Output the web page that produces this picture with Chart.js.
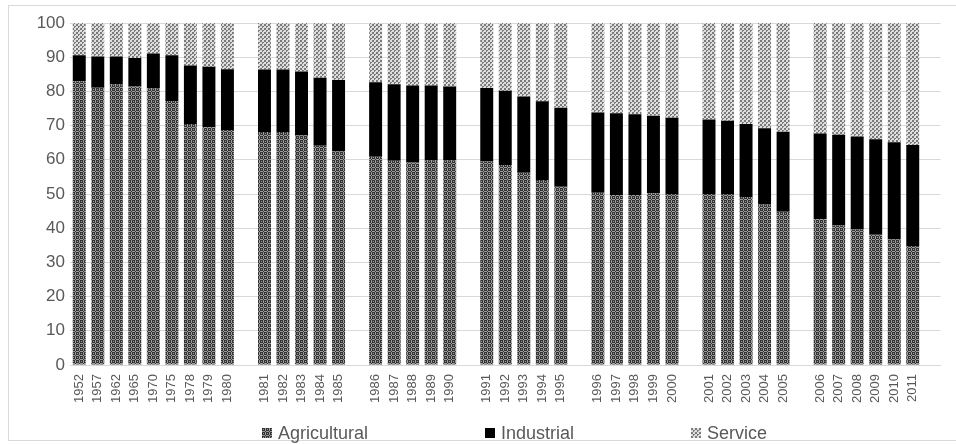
<!DOCTYPE html>
<html>
<head>
<meta charset="utf-8">
<script src="https://cdn.jsdelivr.net/npm/chart.js@4/dist/chart.umd.min.js"></script>
<style>
  body { margin: 0; background: #fff; overflow: hidden; }
  #wrap { position: relative; width: 956px; height: 444px; }
  #legend {
    position: absolute; left: 262px; top: 423px; display: flex; gap: 117px;
    font: 18px "Liberation Sans", Arial, sans-serif; color: #595959; line-height: 20px;
  }
  #legend span.item { display: flex; align-items: center; }
  #legend span.box { width: 10px; height: 10px; margin-right: 6px; display: inline-block; }
</style>
</head>
<body>
<div id="wrap">
  <canvas id="chart" width="956" height="444"></canvas>
  <div id="legend"></div>
</div>
<script>
// '' marks the empty slot Excel leaves between period groups
const years = [
  '1952', '1957', '1962', '1965', '1970', '1975', '1978', '1979', '1980', '',
  '1981', '1982', '1983', '1984', '1985', '',
  '1986', '1987', '1988', '1989', '1990', '',
  '1991', '1992', '1993', '1994', '1995', '',
  '1996', '1997', '1998', '1999', '2000', '',
  '2001', '2002', '2003', '2004', '2005', '',
  '2006', '2007', '2008', '2009', '2010', '2011', ''
];

const agricultural = [
  83.0, 81.1, 82.1, 81.4, 80.9, 77.2, 70.5, 69.5, 68.7, null,
  68.1, 68.1, 67.1, 64.1, 62.4, null,
  60.9, 59.7, 59.2, 59.9, 59.9, null,
  59.5, 58.5, 56.2, 54.1, 52.1, null,
  50.4, 49.7, 49.7, 50.2, 50.0, null,
  50.0, 50.0, 49.1, 46.9, 44.8, null,
  42.6, 40.8, 39.6, 38.1, 36.7, 34.8, null
];

const industrial = [
  7.6, 9.1, 8.1, 8.4, 10.2, 13.4, 17.1, 17.7, 17.8, null,
  18.3, 18.3, 18.7, 19.9, 20.9, null,
  21.8, 22.4, 22.5, 21.8, 21.5, null,
  21.5, 21.7, 22.3, 23.0, 23.1, null,
  23.4, 23.9, 23.6, 22.7, 22.3, null,
  21.8, 21.4, 21.4, 22.3, 23.4, null,
  25.1, 26.5, 27.2, 27.9, 28.4, 29.5, null
];

const service = [
  9.4, 9.8, 9.8, 10.2, 8.9, 9.4, 12.4, 12.8, 13.5, null,
  13.6, 13.6, 14.2, 16.0, 16.7, null,
  17.3, 17.9, 18.3, 18.3, 18.6, null,
  19.0, 19.8, 21.5, 22.9, 24.8, null,
  26.2, 26.4, 26.7, 27.1, 27.7, null,
  28.2, 28.6, 29.5, 30.8, 31.8, null,
  32.3, 32.7, 33.2, 34.0, 34.9, 35.7, null
];

const yTicks = [0, 10, 20, 30, 40, 50, 60, 70, 80, 90, 100];

function makeTile(base, dot, cells) {
  const tile = document.createElement('canvas');
  tile.width = 4;
  tile.height = 4;
  const t = tile.getContext('2d');
  t.fillStyle = base;
  t.fillRect(0, 0, 4, 4);
  t.fillStyle = dot;
  cells.forEach(([x, y]) => t.fillRect(x, y, 1, 1));
  return tile;
}

// dense dark grid for agriculture, light dotted weave for services
const agriTile = makeTile('#333333', '#9c9c9c', [[3, 0], [3, 1], [3, 2], [0, 3], [1, 3], [2, 3], [1, 1]]);
const servTile = makeTile('#dedede', '#7a7a7a', [[0, 0], [1, 0], [0, 1], [1, 1], [2, 2], [3, 2], [2, 3]]);

const ctx = document.getElementById('chart').getContext('2d');
const agriFill = ctx.createPattern(agriTile, 'repeat');
const servFill = ctx.createPattern(servTile, 'repeat');

const frame = {
  id: 'frame',
  beforeDraw(chart) {
    const c = chart.ctx;
    c.save();
    c.fillStyle = '#fff';
    c.fillRect(0, 0, chart.width, chart.height);
    c.strokeStyle = '#d9d9d9';
    c.lineWidth = 1;
    c.strokeRect(8.5, 5.5, 960, 435);
    c.restore();
  }
};

const tickFont = { family: '"Liberation Sans", Arial, sans-serif' };

new Chart(ctx, {
  type: 'bar',
  data: {
    labels: years,
    datasets: [
      { label: 'Agricultural', data: agricultural, backgroundColor: agriFill },
      { label: 'Industrial', data: industrial, backgroundColor: '#000' },
      { label: 'Service', data: service, backgroundColor: servFill }
    ]
  },
  options: {
    responsive: false,
    animation: false,
    layout: { padding: { top: 23, right: 12, left: 0, bottom: 0 } },
    datasets: { bar: { barPercentage: 0.7, categoryPercentage: 1, borderWidth: 0 } },
    plugins: { legend: { display: false }, tooltip: { enabled: false } },
    scales: {
      x: {
        stacked: true,
        grid: { display: false, drawTicks: false },
        border: { display: true, color: '#d9d9d9' },
        ticks: {
          autoSkip: false, minRotation: 90, maxRotation: 90, padding: 9,
          color: '#595959', font: { ...tickFont, size: 13 }
        },
        afterFit: (scale) => { scale.height = 79; }
      },
      y: {
        stacked: true,
        min: 0,
        max: 100,
        afterBuildTicks: (scale) => { scale.ticks = yTicks.map((v) => ({ value: v })); },
        grid: { color: '#d9d9d9', drawTicks: false },
        border: { display: false },
        ticks: { padding: 5, color: '#595959', font: { ...tickFont, size: 17 } },
        afterFit: (scale) => { scale.width = 70; }
      }
    }
  },
  plugins: [frame]
});

function renderLegend() {
  const legend = document.getElementById('legend');
  const items = [
    ['Agricultural', 'url(' + agriTile.toDataURL() + ')'],
    ['Industrial', '#000'],
    ['Service', 'url(' + servTile.toDataURL() + ')']
  ];
  items.forEach(([name, fill]) => {
    const item = document.createElement('span');
    item.className = 'item';
    const box = document.createElement('span');
    box.className = 'box';
    box.style.background = fill;
    item.appendChild(box);
    item.appendChild(document.createTextNode(name));
    legend.appendChild(item);
  });
}

renderLegend();
</script>
</body>
</html>
